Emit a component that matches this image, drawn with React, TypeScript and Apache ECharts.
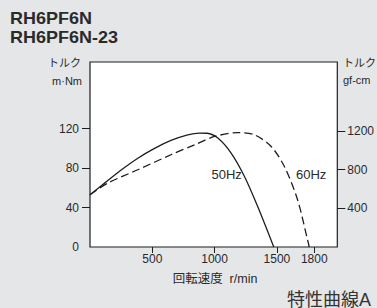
import React, { useEffect, useRef } from "react";
import * as echarts from "echarts";

const rpm50 = [0, 120, 250, 384, 518, 650, 784, 880, 940, 1026, 1134, 1240, 1346, 1475];
const torque50 = [53, 65, 78, 90, 100, 108, 113.7, 115.5, 115.3, 110.4, 95, 71.5, 41, 0];
const rpm60 = [0, 144, 384, 650, 840, 1000, 1186, 1320, 1454, 1560, 1666, 1746, 1760];
const torque60 = [53, 64.8, 78.3, 93.5, 103.6, 112, 116, 113.7, 101.9, 81.6, 47.9, 7.4, 0];

const xTicks = [500, 1000, 1500, 1800];
const yLabels = [0, 40, 80, 120];
const yTicks = [40, 80, 120];
const y2Ticks = [400, 800, 1200];

const X_MAX = 1985;
const Y_MAX = 187.5;
const GF_PER_MNM = 10.197;

const FONT = "'Liberation Sans', Arial, 'Noto Sans CJK JP', sans-serif";
const TXT = "#2a2a2a";
const LINE = "#1e1e1e";

function txt(x: number, y: number, text: string, size: number, align: string, weight = "normal", fill = TXT, scaleX = 1) {
  return {
    type: "text",
    x,
    y,
    scaleX,
    style: {
      text,
      fontSize: size,
      fontWeight: weight,
      fontFamily: FONT,
      fill,
      align,
      verticalAlign: "middle",
    },
  };
}

export default function App() {
  const ref = useRef<HTMLDivElement>(null);
  useEffect(() => {
    document.body.style.margin = "0";
    const chart = echarts.init(ref.current!, null, { renderer: "svg" });
    const axisLabelStyle = {
      color: TXT,
      fontSize: 12,
      fontFamily: FONT,
      formatter: (v: number) => String(v),
    };
    chart.setOption({
      animation: false,
      backgroundColor: "#e5e6e8",
      grid: {
        left: 90,
        right: 39,
        top: 62,
        bottom: 61,
        show: true,
        backgroundColor: "#ffffff",
        borderColor: LINE,
        borderWidth: 1.2,
      },
      xAxis: {
        type: "value",
        min: 0,
        max: X_MAX,
        splitLine: { show: false },
        axisLine: { show: false },
        axisTick: {
          show: true,
          length: 6,
          customValues: xTicks,
          lineStyle: { color: LINE, width: 1 },
        },
        axisLabel: { ...axisLabelStyle, margin: 6, customValues: xTicks },
      },
      yAxis: [
        {
          type: "value",
          min: 0,
          max: Y_MAX,
          position: "left",
          splitLine: { show: false },
          axisLine: { show: false },
          axisTick: {
            show: true,
            length: 8,
            customValues: yTicks,
            lineStyle: { color: LINE, width: 1 },
          },
          axisLabel: { ...axisLabelStyle, margin: 11, customValues: yLabels },
        },
        {
          type: "value",
          min: 0,
          max: Y_MAX * GF_PER_MNM,
          position: "right",
          splitLine: { show: false },
          axisLine: { show: false },
          axisTick: {
            show: true,
            length: 8,
            customValues: y2Ticks,
            lineStyle: { color: LINE, width: 1 },
          },
          axisLabel: { ...axisLabelStyle, margin: 10, customValues: y2Ticks },
        },
      ],
      series: [
        {
          name: "50Hz",
          type: "line",
          data: rpm50.map((r, i) => [r, torque50[i]]),
          smooth: 0.3,
          showSymbol: false,
          lineStyle: { color: LINE, width: 1.3, type: "solid" },
        },
        {
          name: "60Hz",
          type: "line",
          data: rpm60.map((r, i) => [r, torque60[i]]),
          smooth: 0.3,
          showSymbol: false,
          lineStyle: { color: LINE, width: 1.3, type: [8, 4] },
        },
      ],
      graphic: [
        txt(10, 18, "RH6PF6N", 16.5, "left", "bold", TXT, 1.09),
        txt(10, 37.5, "RH6PF6N-23", 16.5, "left", "bold", TXT, 1.09),
        txt(81, 62.5, "トルク", 11, "right"),
        txt(82, 81, "m·Nm", 11, "right"),
        txt(343, 63, "トルク", 11, "left"),
        txt(343, 80, "gf-cm", 11, "left"),
        txt(211.5, 174, "50Hz", 13, "left"),
        txt(296, 174, "60Hz", 13, "left"),
        txt(215, 278.5, "回転速度  r/min", 12.5, "center"),
        txt(371, 299.5, "特性曲線A", 18, "right", "normal", "#333333"),
      ],
    });
    return () => chart.dispose();
  }, []);
  return <div ref={ref} style={{ width: 377, height: 308 }} />;
}
